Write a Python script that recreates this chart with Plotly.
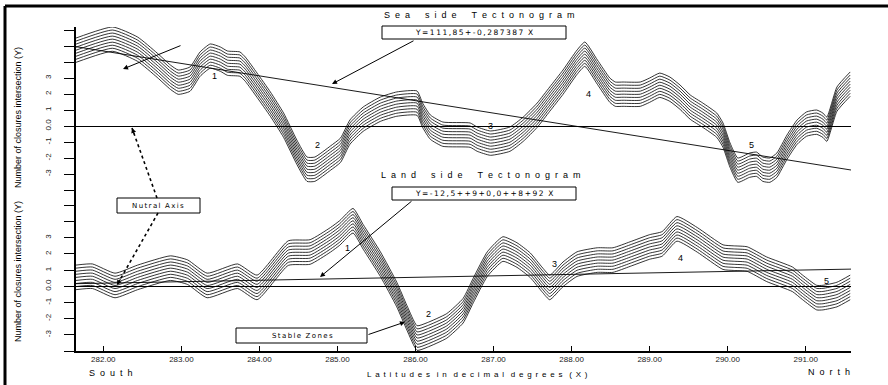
import math
import plotly.graph_objects as go

# ---------------- data ----------------
sea_x = [281.65, 282.12, 282.44, 282.69, 282.86, 282.96, 283.11, 283.24, 283.37, 283.50,
         283.59, 283.75, 283.82, 283.97, 284.14, 284.31, 284.48, 284.61, 284.71, 284.91,
         285.04, 285.16, 285.33, 285.55, 285.76, 286.02, 286.09, 286.19, 286.35, 286.70,
         286.79, 286.96, 287.21, 287.38, 287.56, 287.72, 287.89, 288.07, 288.17, 288.33,
         288.49, 288.56, 288.66, 288.88, 289.00, 289.13, 289.26, 289.39, 289.52, 289.68,
         289.86, 289.94, 290.03, 290.13, 290.28, 290.37, 290.45, 290.54, 290.63, 290.76,
         290.89, 291.01, 291.14, 291.22, 291.27, 291.40, 291.57]
sea_y = [5.50, 6.19, 5.56, 4.56, 3.81, 3.50, 3.69, 4.63, 5.13, 4.94,
         4.69, 4.63, 4.31, 3.31, 2.13, 0.81, -0.88, -1.94, -1.94, -1.25,
         -0.75, 0.38, 1.19, 1.81, 2.13, 2.19, 1.44, 0.69, 0.25, 0.19,
         -0.06, -0.31, -0.06, 0.56, 1.44, 2.44, 3.50, 4.75, 5.25, 4.13,
         3.00, 2.75, 2.75, 2.75, 3.00, 3.31, 3.06, 2.56, 1.94, 1.44,
         0.81, 0.19, -1.06, -2.00, -1.69, -1.63, -1.94, -2.00, -1.69, -0.56,
         0.38, 0.88, 1.00, 0.81, 0.56, 2.44, 3.38]

land_x = [281.65, 281.86, 282.15, 282.44, 282.86, 283.08, 283.33, 283.72, 283.97,
          284.37, 284.65, 284.91, 285.03, 285.20, 285.33, 285.55, 285.76, 285.89, 286.02,
          286.15, 286.40, 286.61, 286.74, 286.92, 287.12, 287.30, 287.47, 287.63, 287.72,
          287.89, 288.07, 288.33, 288.53, 288.75, 289.00, 289.16, 289.35, 289.61, 289.94,
          290.07, 290.25, 290.50, 290.83, 290.96, 291.14, 291.22, 291.40, 291.57]
land_y = [1.31, 1.38, 0.81, 1.31, 1.88, 1.63, 0.81, 1.38, 0.69,
          2.81, 2.88, 3.63, 4.06, 4.81, 3.81, 2.13, 0.25, -1.19, -2.44,
          -2.25, -1.69, -0.75, 0.50, 2.13, 3.06, 2.69, 2.06, 1.13, 0.69,
          1.50, 2.13, 2.38, 2.38, 2.75, 3.19, 3.38, 4.31, 3.63, 2.56,
          2.50, 2.44, 1.81, 1.19, 0.69, 0.06, 0.06, 0.25, 0.69]

band_offsets = [0.0, 0.19, 0.38, 0.57, 0.76, 0.95, 1.14, 1.33, 1.52]

trend_x = [281.65, 291.58]
sea_trend_y = [4.96, -2.75]
land_trend_y = [0.16, 1.06]

x_ticks = [282, 283, 284, 285, 286, 287, 288, 289, 290, 291]
x_tick_labels = ["282.00", "283.00", "284.00", "285.00", "286.00",
                 "287.00", "288.00", "289.00", "290.00", "291.00"]
y_ticks = [-4, -3, -2, -1, 0, 1, 2, 3, 4, 5, 6]
y_tick_labels = ["", "-3", "-2", "-1", "0.0", "1", "2", "3", "", "", ""]

sea_labels = ["1", "2", "3", "4", "5"]
land_labels = ["1", "2", "3", "4", "5"]

# ---------------- layout helpers ----------------
W, H = 888, 385
L, R, T, B = 76, 851, 27, 351


def px(x):
    return (x - L) / (R - L)


def py(y):
    return (B - y) / (B - T)


FONT = "Liberation Sans"
WIDE = "DejaVu Sans"
fig = go.Figure()

for off in band_offsets:
    fig.add_trace(go.Scatter(x=sea_x, y=[v - off for v in sea_y], mode="lines",
                             line=dict(color="black", width=0.8, shape="spline", smoothing=0.5),
                             xaxis="x2", yaxis="y2", showlegend=False, hoverinfo="skip"))
    fig.add_trace(go.Scatter(x=land_x, y=[v - off for v in land_y], mode="lines",
                             line=dict(color="black", width=0.8, shape="spline", smoothing=0.5),
                             xaxis="x", yaxis="y", showlegend=False, hoverinfo="skip"))

fig.add_trace(go.Scatter(x=trend_x, y=sea_trend_y, mode="lines", line=dict(color="black", width=0.9),
                         xaxis="x2", yaxis="y2", showlegend=False, hoverinfo="skip"))
fig.add_trace(go.Scatter(x=trend_x, y=land_trend_y, mode="lines", line=dict(color="black", width=0.9),
                         xaxis="x", yaxis="y", showlegend=False, hoverinfo="skip"))

split = (B - 190) / (B - T)
xr = [281.65, 291.58]
tickfont = dict(family=FONT, size=8, color="#222")

fig.update_layout(
    width=W, height=H, margin=dict(l=L, r=W - R, t=T, b=H - B),
    paper_bgcolor="white", plot_bgcolor="white", showlegend=False,
    xaxis=dict(domain=[0, 1], range=xr, tickvals=x_ticks, ticktext=x_tick_labels,
               showline=True, linecolor="black", linewidth=1.5, ticks="inside", ticklen=5,
               tickcolor="black", showgrid=False, zeroline=False, tickfont=tickfont),
    xaxis2=dict(domain=[0, 1], range=xr, anchor="y2", matches="x", showline=False,
                showticklabels=False, ticks="", showgrid=False, zeroline=False),
    yaxis=dict(domain=[0, split], range=[-4, 5.95], tickvals=y_ticks, ticktext=y_tick_labels,
               showline=True, linecolor="black", linewidth=1.5, ticks="outside", ticklen=10,
               tickcolor="black", tickangle=-90, ticklabelstandoff=10, showgrid=False,
               zeroline=True, zerolinecolor="black", zerolinewidth=1, tickfont=tickfont),
    yaxis2=dict(domain=[split, 1], range=[-4, 6.19], tickvals=y_ticks, ticktext=y_tick_labels,
                anchor="x2", showline=True, linecolor="black", linewidth=1.5, ticks="outside",
                ticklen=10, tickcolor="black", tickangle=-90, ticklabelstandoff=10,
                showgrid=False, zeroline=True, zerolinecolor="black", zerolinewidth=1,
                tickfont=tickfont),
)

shapes = []
# outer frame (top and left edges visible)
shapes.append(dict(type="line", xref="paper", yref="paper", x0=px(5), x1=px(890), y0=py(6), y1=py(6),
                   line=dict(color="black", width=3)))
shapes.append(dict(type="line", xref="paper", yref="paper", x0=px(5), x1=px(5), y0=py(6), y1=py(390),
                   line=dict(color="black", width=3)))
# boxes
boxes = [(382, 26, 566, 39), (392, 187, 576, 200), (117, 198, 200, 213), (236, 328, 367, 343)]
for x0, y0, x1, y1 in boxes:
    shapes.append(dict(type="rect", xref="paper", yref="paper", x0=px(x0), x1=px(x1),
                       y0=py(y1), y1=py(y0), line=dict(color="black", width=1), fillcolor="white"))

ann = []


def text(t, x, y, size=9, xanchor="center", angle=0, family=FONT, color="black"):
    ann.append(dict(text=t, x=px(x), y=py(y), xref="paper", yref="paper", showarrow=False,
                    xanchor=xanchor, yanchor="middle", textangle=angle,
                    font=dict(family=family, size=size, color=color)))


def arrow(hx, hy, tx, ty, width=1.0):
    ann.append(dict(text="", x=px(hx), y=py(hy), xref="paper", yref="paper", showarrow=True,
                    ax=tx - hx, ay=ty - hy, axref="pixel", ayref="pixel", arrowhead=2,
                    arrowsize=1, arrowwidth=width, arrowcolor="black"))


def dotted_arrow(hx, hy, tx, ty):
    shapes.append(dict(type="line", xref="paper", yref="paper", x0=px(tx), y0=py(ty),
                       x1=px(hx), y1=py(hy), line=dict(color="black", width=1.6, dash="dot")))
    d = math.hypot(tx - hx, ty - hy)
    k = 9 / d
    arrow(hx, hy, hx + (tx - hx) * k, hy + (ty - hy) * k, width=1.0)


NB = "\u00a0"
TS = "\u2009"


def spread(s, gap, word_gap):
    words = s.split(" ")
    return word_gap.join(gap.join(list(w)) for w in words)


text(spread("Sea side Tectonogram", NB * 2, NB * 6), 480, 15, size=9)
text(spread("Land side Tectonogram", NB * 2, NB * 6), 481, 175, size=9)
text(spread("Y=111,85+-0,287387 X", TS, NB * 2), 474, 32.5, size=7.5, family=WIDE)
text(spread("Y=-12,5++9+0,0++8+92 X", TS, NB * 2), 484, 193.5, size=7.5, family=WIDE)
text(spread("Nutral Axis", TS, NB * 2), 158, 205.5, size=7, family=WIDE)
text(spread("Stable Zones", TS, NB * 2), 302, 335.5, size=7, family=WIDE)
text(spread("South", NB * 2, NB), 87, 373, size=9, xanchor="left")
text(spread("North", NB * 2, NB), 852, 372, size=9, xanchor="right")
text(spread("Latitudes in decimal degrees (X)", NB + TS, NB * 3), 477, 375, size=8)
text("Number of closures intersection (Y)", 18, 117, size=9, angle=-90,
     family="Liberation Sans Narrow, Liberation Sans")
text("Number of closures intersection (Y)", 18, 271, size=9, angle=-90,
     family="Liberation Sans Narrow, Liberation Sans")

sea_pos = [(214, 76), (317, 145), (490, 126), (588, 94), (751, 145)]
land_pos = [(347, 248), (428, 314), (554, 264), (680, 258), (826, 281)]
for t, (x, y) in zip(sea_labels, sea_pos):
    text(t, x, y, size=9)
for t, (x, y) in zip(land_labels, land_pos):
    text(t, x, y, size=9)

arrow(332, 84, 415, 40)
arrow(123, 69, 182, 45)
dotted_arrow(132, 128, 157, 198)
dotted_arrow(117, 285, 158, 213)
arrow(320, 277, 413, 200)
arrow(405, 322, 367, 335)

fig.update_layout(shapes=shapes, annotations=ann)
fig.write_html("out.html", config={"displayModeBar": False},
               post_script="document.body.style.margin='0';document.body.style.overflow='hidden';")
